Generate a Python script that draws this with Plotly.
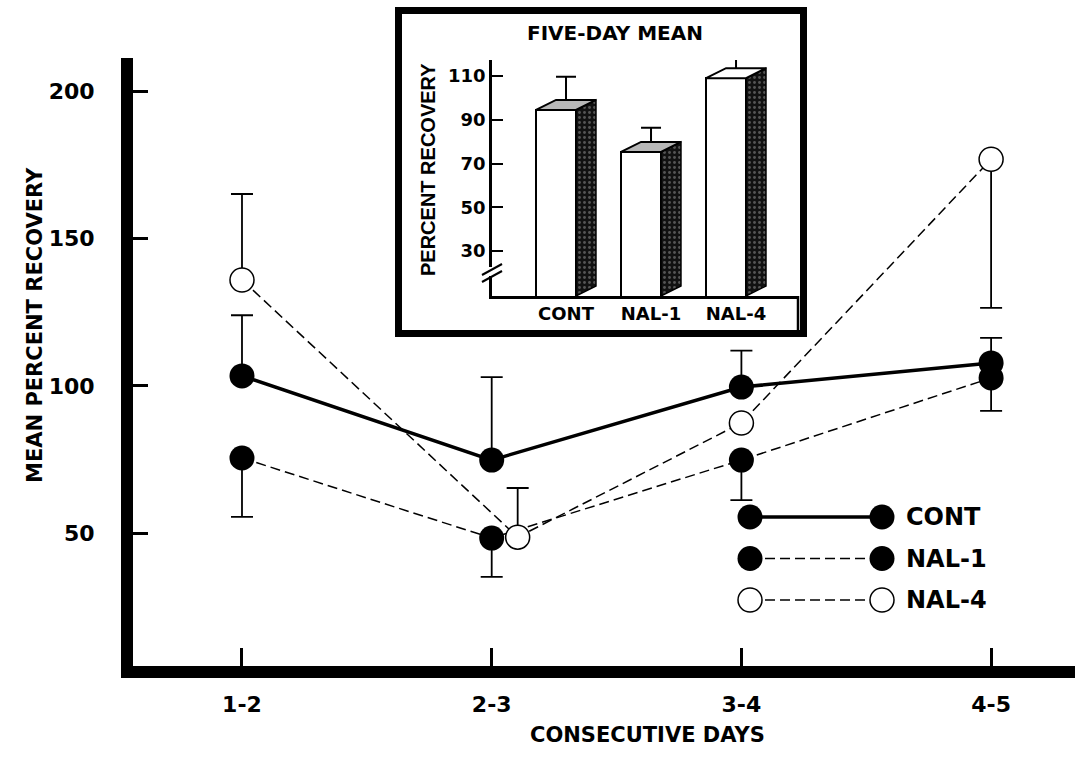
import plotly.graph_objects as go

# ---------------- data ----------------
days = ["1-2", "2-3", "3-4", "4-5"]
day_idx = [0, 1, 2, 3]

cont_mean = [103.4, 74.8, 99.6, 107.8]
cont_err_up = [20.6, 28.2, 12.4, 8.5]

nal1_mean = [75.5, 48.3, 74.8, 102.7]
nal1_err_down = [20.0, 13.2, 13.6, 11.2]

nal4_mean = [136.0, 48.6, 87.4, 177.0]
nal4_err_up = [29.2, 16.7, 0.0, 0.0]
nal4_err_down = [0.0, 0.0, 0.0, 50.5]
nal4_jitter = [0.0, 0.104, 0.0, 0.0]   # horizontal offset used in the figure to avoid overlap

series_names = ["CONT", "NAL-1", "NAL-4"]

inset_groups = ["CONT", "NAL-1", "NAL-4"]
five_day_mean = [94.5, 75.3, 109.0]
five_day_err = [15.1, 11.0, 12.0]
inset_yticks = [30, 50, 70, 90, 110]
main_yticks = [50, 100, 150, 200]

# ---------------- helpers / style ----------------
W, H = 1077, 759
def px(x): return x / W
def py(y): return 1 - y / H

BOLD = dict(family="DejaVu Sans", weight="bold", color="black")
ARIALB = dict(family="Liberation Sans", weight="bold", color="black")
MS = 25

fig = go.Figure()

# ---------------- main chart ----------------
err_style = dict(type="data", symmetric=False, color="black", thickness=1.8, width=11)

fig.add_trace(go.Scatter(
    x=day_idx, y=cont_mean, mode="lines+markers",
    line=dict(color="black", width=3.5),
    marker=dict(size=MS, color="black"),
    error_y=dict(err_style, array=cont_err_up, arrayminus=[0] * 4),
    xaxis="x", yaxis="y", showlegend=False))

fig.add_trace(go.Scatter(
    x=day_idx, y=nal1_mean, mode="lines+markers",
    line=dict(color="black", width=1.5, dash="10px,5px"),
    marker=dict(size=MS, color="black"),
    error_y=dict(err_style, array=[0] * 4, arrayminus=nal1_err_down),
    xaxis="x", yaxis="y", showlegend=False))

fig.add_trace(go.Scatter(
    x=[d + j for d, j in zip(day_idx, nal4_jitter)], y=nal4_mean, mode="lines+markers",
    line=dict(color="black", width=1.5, dash="10px,5px"),
    marker=dict(size=MS - 1, color="white", line=dict(color="black", width=1.5)),
    error_y=dict(err_style, array=nal4_err_up, arrayminus=nal4_err_down),
    xaxis="x", yaxis="y", showlegend=False))

# ---------------- custom legend ----------------
leg_styles = [
    dict(line=dict(color="black", width=3.5), marker=dict(size=MS, color="black")),
    dict(line=dict(color="black", width=1.5, dash="10px,5px"), marker=dict(size=MS, color="black")),
    dict(line=dict(color="black", width=1.5, dash="10px,5px"),
         marker=dict(size=MS - 1, color="white", line=dict(color="black", width=1.5))),
]
for i, (name, st) in enumerate(zip(series_names, leg_styles)):
    fig.add_trace(go.Scatter(x=[0, 1], y=[i, i], mode="lines+markers", cliponaxis=False,
                             xaxis="x3", yaxis="y3", showlegend=False, **st))

# ---------------- inset (five-day mean) ----------------
DEPTH_X, DEPTH_Y, BAR_W = 0.235, 4.57, 0.47
inset_floor = 9.45
tick_idx = list(range(len(inset_groups)))

# error bars from centre of top face
fig.add_trace(go.Scatter(
    x=tick_idx, y=[v + DEPTH_Y / 2 for v in five_day_mean], mode="markers",
    marker=dict(size=1, color="rgba(0,0,0,0)"),
    error_y=dict(type="data", symmetric=False,
                 array=[e - DEPTH_Y / 2 for e in five_day_err], arrayminus=[0] * 3,
                 color="black", thickness=2, width=10),
    xaxis="x2", yaxis="y2", showlegend=False))

fig.add_trace(go.Bar(
    x=[i - DEPTH_X / 2 for i in tick_idx], y=five_day_mean, width=BAR_W,
    marker=dict(color="white", line=dict(color="black", width=2)),
    xaxis="x2", yaxis="y2", showlegend=False))

top_colors = ["#b8b8b8", "#b8b8b8", "white"]
for i, v in zip(tick_idx, five_day_mean):
    fl = i - DEPTH_X / 2 - BAR_W / 2
    fr = i - DEPTH_X / 2 + BAR_W / 2
    sr = fr + DEPTH_X
    # side face
    fig.add_trace(go.Scatter(
        x=[fr, fr, sr, sr, fr], y=[inset_floor, v, v + DEPTH_Y, inset_floor + DEPTH_Y, inset_floor],
        mode="lines", fill="toself", fillcolor="#1c1c1c",
        fillpattern=dict(shape=".", bgcolor="#111111", fgcolor="#9a9a9a", size=5, solidity=0.25),
        line=dict(color="black", width=1.5), xaxis="x2", yaxis="y2", showlegend=False))
    # top face
    fig.add_trace(go.Scatter(
        x=[fl, fr, sr, fl + DEPTH_X, fl], y=[v, v, v + DEPTH_Y, v + DEPTH_Y, v],
        mode="lines", fill="toself", fillcolor=top_colors[i],
        line=dict(color="black", width=2), xaxis="x2", yaxis="y2", showlegend=False))

# ---------------- layout ----------------
shapes = [
    # inset frame
    dict(type="rect", xref="paper", yref="paper", x0=px(398.5), x1=px(803.5), y0=py(333.5), y1=py(10.5),
         line=dict(color="black", width=7), fillcolor="white", layer="below"),
    # box around inset category labels
    dict(type="line", xref="paper", yref="paper", x0=px(798), x1=px(798), y0=py(296), y1=py(331),
         line=dict(color="black", width=2.5)),
    # axis break
    dict(type="rect", xref="paper", yref="paper", x0=px(487), x1=px(496), y0=py(276), y1=py(267),
         line=dict(width=0), fillcolor="white"),
    dict(type="line", xref="paper", yref="paper", x0=px(482), x1=px(502), y0=py(275), y1=py(264),
         line=dict(color="black", width=2)),
    dict(type="line", xref="paper", yref="paper", x0=px(482), x1=px(502), y0=py(282), y1=py(271),
         line=dict(color="black", width=2)),
]

annotations = [
    dict(text="CONSECUTIVE DAYS", xref="paper", yref="paper", x=px(647), y=py(735),
         showarrow=False, font=dict(BOLD, size=21), xanchor="center", yanchor="middle"),
    dict(text="MEAN PERCENT RECOVERY", xref="paper", yref="paper", x=px(35), y=py(325),
         showarrow=False, font=dict(BOLD, size=21), textangle=-90, xanchor="center", yanchor="middle"),
    dict(text="FIVE-DAY MEAN", xref="paper", yref="paper", x=px(615), y=py(33),
         showarrow=False, font=dict(BOLD, size=20), xanchor="center", yanchor="middle"),
    dict(text="PERCENT RECOVERY", xref="paper", yref="paper", x=px(428), y=py(170),
         showarrow=False, font=dict(ARIALB, size=20), textangle=-90, xanchor="center", yanchor="middle"),
]
for i, name in enumerate(series_names):
    annotations.append(dict(text=name, xref="x3", yref="y3", x=1, y=i, xshift=22,
                            showarrow=False, font=dict(BOLD, size=24),
                            xanchor="left", yanchor="middle"))

fig.update_layout(
    width=W, height=H,
    margin=dict(l=0, r=0, t=0, b=0),
    paper_bgcolor="white", plot_bgcolor="rgba(0,0,0,0)",
    showlegend=False,
    shapes=shapes, annotations=annotations,
    bargap=0,
    xaxis=dict(domain=[px(133), px(1075)], range=[-0.4365, 3.336],
               tickmode="array", tickvals=day_idx, ticktext=days,
               ticks="inside", ticklen=18, tickwidth=2.5, tickcolor="black",
               showline=True, linewidth=12, linecolor="black",
               showgrid=False, zeroline=False, tickfont=dict(BOLD, size=22),
               ticklabelstandoff=8, anchor="y"),
    yaxis=dict(domain=[py(666), py(58)], range=[4.83, 211.4],
               tickmode="array", tickvals=main_yticks,
               ticks="inside", ticklen=15, tickwidth=2.5, tickcolor="black",
               showline=True, linewidth=12, linecolor="black",
               showgrid=False, zeroline=False, tickfont=dict(BOLD, size=22),
               ticklabelstandoff=22, anchor="x"),
    xaxis2=dict(domain=[px(492), px(798)], range=[-0.8706, 2.729],
                tickmode="array", tickvals=tick_idx, ticktext=inset_groups,
                ticks="", showline=True, linewidth=2.5, linecolor="black",
                showgrid=False, zeroline=False, tickfont=dict(BOLD, size=18),
                anchor="y2"),
    yaxis2=dict(domain=[py(296), py(60)], range=[inset_floor, 117.3],
                tickmode="array", tickvals=inset_yticks,
                ticks="inside", ticklen=11, tickwidth=2, tickcolor="black",
                showline=True, linewidth=2.5, linecolor="black",
                showgrid=False, zeroline=False, tickfont=dict(BOLD, size=18),
                anchor="x2"),
    xaxis3=dict(domain=[px(740), px(1040)], range=[-0.0758, 2.197], visible=False, anchor="y3"),
    yaxis3=dict(domain=[py(620), py(500)], range=[2.482, -0.41], visible=False, anchor="x3"),
)

fig.write_html("out.html", config={"displayModeBar": False},
               post_script="document.body.style.margin='0px';")
